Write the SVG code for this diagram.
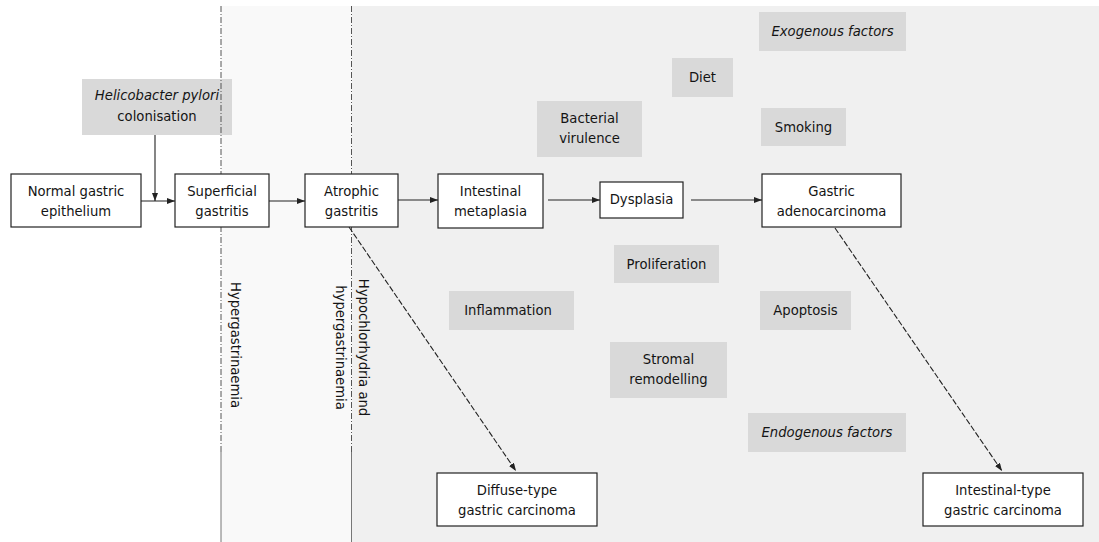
<svg xmlns="http://www.w3.org/2000/svg" width="1099" height="542" viewBox="0 0 1099 542">
<style>
text{font-family:"DejaVu Sans","Liberation Sans",sans-serif;font-size:13.2px;fill:#141414;text-anchor:middle}
.it{font-style:italic}
.node rect{fill:#fff;stroke:#222;stroke-width:1.2}
.fac rect{fill:#d9d9d9;stroke:none}
.conn line{stroke:#222;stroke-width:1.1;fill:none}
.dash{stroke-dasharray:6,2}
.div{stroke:#555;stroke-width:1;stroke-dasharray:6,2,1,2}
.divs{stroke:#777;stroke-width:1}
</style>
<defs>
<marker id="ah" markerWidth="8" markerHeight="6" refX="8" refY="3" orient="auto" markerUnits="userSpaceOnUse">
<path d="M0,0 L8,3 L0,6 z" fill="#222"/>
</marker>
</defs>
<rect x="0" y="0" width="1099" height="542" fill="#fff"/>
<rect x="221" y="6" width="131" height="536" fill="#f9f9f9"/>
<rect x="352" y="6" width="747" height="536" fill="#f0f0f0"/>

<g id="fac-hp" class="fac"><rect x="82" y="79" width="150" height="56"/><text x="157" y="100" class="it">Helicobacter pylori</text><text x="157" y="121">colonisation</text></g>

<g id="dividers">
<line class="div" x1="221" y1="6" x2="221" y2="452"/>
<line class="divs" x1="221" y1="452" x2="221" y2="542"/>
<line class="div" x1="351.5" y1="6" x2="351.5" y2="452"/>
<line class="divs" x1="351.5" y1="452" x2="351.5" y2="542"/>
</g>

<g id="lbl-hyper"><text transform="translate(231,345) rotate(90)">Hypergastrinaemia</text></g>
<g id="lbl-hypo"><text transform="translate(359,347.5) rotate(90)">Hypochlorhydria and</text><text transform="translate(336,347.5) rotate(90)">hypergastrinaemia</text></g>

<g id="fac-exo" class="fac"><rect x="759" y="12" width="147" height="39"/><text x="832.5" y="36" class="it">Exogenous factors</text></g>
<g id="fac-diet" class="fac"><rect x="672" y="58" width="61" height="39"/><text x="702.5" y="82">Diet</text></g>
<g id="fac-bact" class="fac"><rect x="537" y="101" width="105" height="56"/><text x="589.5" y="123">Bacterial</text><text x="589.5" y="143">virulence</text></g>
<g id="fac-smoke" class="fac"><rect x="761" y="108" width="85" height="38"/><text x="803.5" y="132">Smoking</text></g>
<g id="fac-prolif" class="fac"><rect x="614" y="245" width="105" height="38"/><text x="666.5" y="269">Proliferation</text></g>
<g id="fac-inflam" class="fac"><rect x="449" y="291" width="125" height="39"/><text x="508" y="315">Inflammation</text></g>
<g id="fac-apop" class="fac"><rect x="760" y="291" width="91" height="39"/><text x="805.5" y="315">Apoptosis</text></g>
<g id="fac-stromal" class="fac"><rect x="610" y="342" width="117" height="56"/><text x="668.5" y="364">Stromal</text><text x="668.5" y="384">remodelling</text></g>
<g id="fac-endo" class="fac"><rect x="748" y="413" width="158" height="39"/><text x="827" y="437" class="it">Endogenous factors</text></g>

<g id="connectors" class="conn">
<line x1="141" y1="201" x2="175" y2="201" marker-end="url(#ah)"/>
<line x1="155" y1="135" x2="155" y2="201" marker-end="url(#ah)"/>
<line x1="269" y1="201" x2="305" y2="201" marker-end="url(#ah)"/>
<line x1="398" y1="200" x2="438" y2="200" marker-end="url(#ah)"/>
<line x1="548" y1="200" x2="600" y2="200" marker-end="url(#ah)"/>
<line x1="691" y1="200" x2="762" y2="200" marker-end="url(#ah)"/>
<line class="dash" x1="349" y1="227" x2="516" y2="471" marker-end="url(#ah)"/>
<line class="dash" x1="835" y1="228" x2="1002" y2="471" marker-end="url(#ah)"/>
</g>

<g id="n-normal" class="node"><rect x="11" y="174" width="130" height="53"/><text x="76" y="196">Normal gastric</text><text x="76" y="216">epithelium</text></g>
<g id="n-superficial" class="node"><rect x="175" y="174" width="94" height="53"/><text x="222" y="196">Superficial</text><text x="222" y="216">gastritis</text></g>
<g id="n-atrophic" class="node"><rect x="305" y="174" width="93" height="53"/><text x="351.5" y="196">Atrophic</text><text x="351.5" y="216">gastritis</text></g>
<g id="n-intestinal" class="node"><rect x="438" y="174" width="105" height="54"/><text x="490.5" y="196">Intestinal</text><text x="490.5" y="216">metaplasia</text></g>
<g id="n-dysplasia" class="node"><rect x="600" y="182" width="83" height="36"/><text x="641.5" y="204">Dysplasia</text></g>
<g id="n-adeno" class="node"><rect x="762" y="174" width="139" height="53"/><text x="831.5" y="196">Gastric</text><text x="831.5" y="216">adenocarcinoma</text></g>
<g id="n-diffuse" class="node"><rect x="437" y="473" width="160" height="53"/><text x="517" y="495">Diffuse-type</text><text x="517" y="515">gastric carcinoma</text></g>
<g id="n-inttype" class="node"><rect x="923" y="473" width="160" height="53"/><text x="1003" y="495">Intestinal-type</text><text x="1003" y="515">gastric carcinoma</text></g>
</svg>
